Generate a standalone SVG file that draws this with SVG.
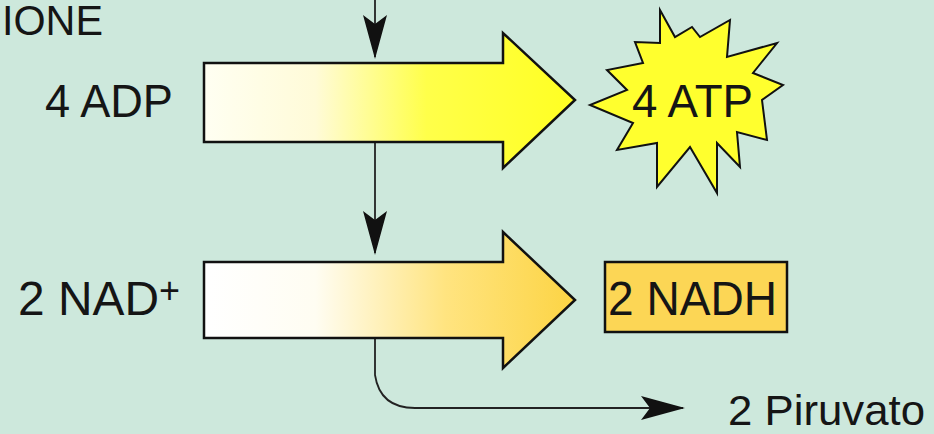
<svg xmlns="http://www.w3.org/2000/svg" width="934" height="434" viewBox="0 0 934 434">
<defs>
<style>
.t{font-family:"Liberation Sans","Arial",sans-serif;fill:#151515;}
.big{stroke:#111;stroke-width:2.5;stroke-linejoin:miter;}
.ln{fill:none;stroke:#222;stroke-width:1.8;}
</style>
<linearGradient id="g1" gradientUnits="userSpaceOnUse" x1="204" y1="0" x2="575" y2="0">
<stop offset="0" stop-color="#fffff2"/>
<stop offset="0.3" stop-color="#fffbd8"/>
<stop offset="0.6" stop-color="#ffff4a"/>
<stop offset="1" stop-color="#ffff22"/>
</linearGradient>
<linearGradient id="g2" gradientUnits="userSpaceOnUse" x1="204" y1="0" x2="575" y2="0">
<stop offset="0" stop-color="#ffffff"/>
<stop offset="0.3" stop-color="#fffdf2"/>
<stop offset="0.65" stop-color="#ffe480"/>
<stop offset="1" stop-color="#fcd444"/>
</linearGradient>
<marker id="ah" viewBox="0 0 44 26" refX="42" refY="13" markerWidth="44" markerHeight="26" markerUnits="userSpaceOnUse" orient="auto">
<polygon points="0,1 9,13 0,25 44,13" fill="#111"/>
</marker>
</defs>
<rect width="934" height="434" fill="#cde8dc"/>
<g id="title"><text class="t" x="2" y="35" font-size="42" textLength="101" lengthAdjust="spacingAndGlyphs">IONE</text></g>
<g id="connectors">
<line class="ln" x1="375" y1="0" x2="375" y2="57" marker-end="url(#ah)"/>
<line class="ln" x1="375" y1="142" x2="375" y2="253" marker-end="url(#ah)"/>
<path class="ln" d="M375,338 V375 Q380,408 415,408 H683" marker-end="url(#ah)"/>
</g>
<g id="arrow-atp">
<polygon class="big" fill="url(#g1)" points="204,63 503,63 503,33 575,100 503,168 503,142 204,142"/>
</g>
<g id="arrow-nad">
<polygon class="big" fill="url(#g2)" points="204,262 503,262 503,232 575,300 503,368 503,338 204,338"/>
</g>
<g id="adp"><text class="t" x="45" y="117" font-size="46" textLength="128" lengthAdjust="spacingAndGlyphs">4 ADP</text></g>
<g id="atp">
<polygon fill="#ffff2e" stroke="#111" stroke-width="2" points="660,10 675,37 692,27 700,37 730,20 727,57 777,43 753,73 783,85 762,100 767,140 737,132 740,167 717,143 717,193 690,147 657,187 657,143 617,150 633,123 590,105 627,90 607,70 643,63 635,42 660,43"/>
<text class="t" x="632" y="117" font-size="46" textLength="121" lengthAdjust="spacingAndGlyphs">4 ATP</text>
</g>
<g id="nad">
<text class="t" x="18" y="315" font-size="48" textLength="162" lengthAdjust="spacingAndGlyphs">2 NAD<tspan dy="-12" font-size="36">+</tspan></text>
</g>
<g id="nadh">
<rect x="605" y="262" width="182" height="70" fill="#fcd655" stroke="#111" stroke-width="2.5"/>
<text class="t" x="608" y="315" font-size="48" textLength="169" lengthAdjust="spacingAndGlyphs">2 NADH</text>
</g>
<g id="piruvato"><text class="t" x="728" y="425" font-size="43" textLength="197" lengthAdjust="spacingAndGlyphs">2 Piruvato</text></g>
</svg>
